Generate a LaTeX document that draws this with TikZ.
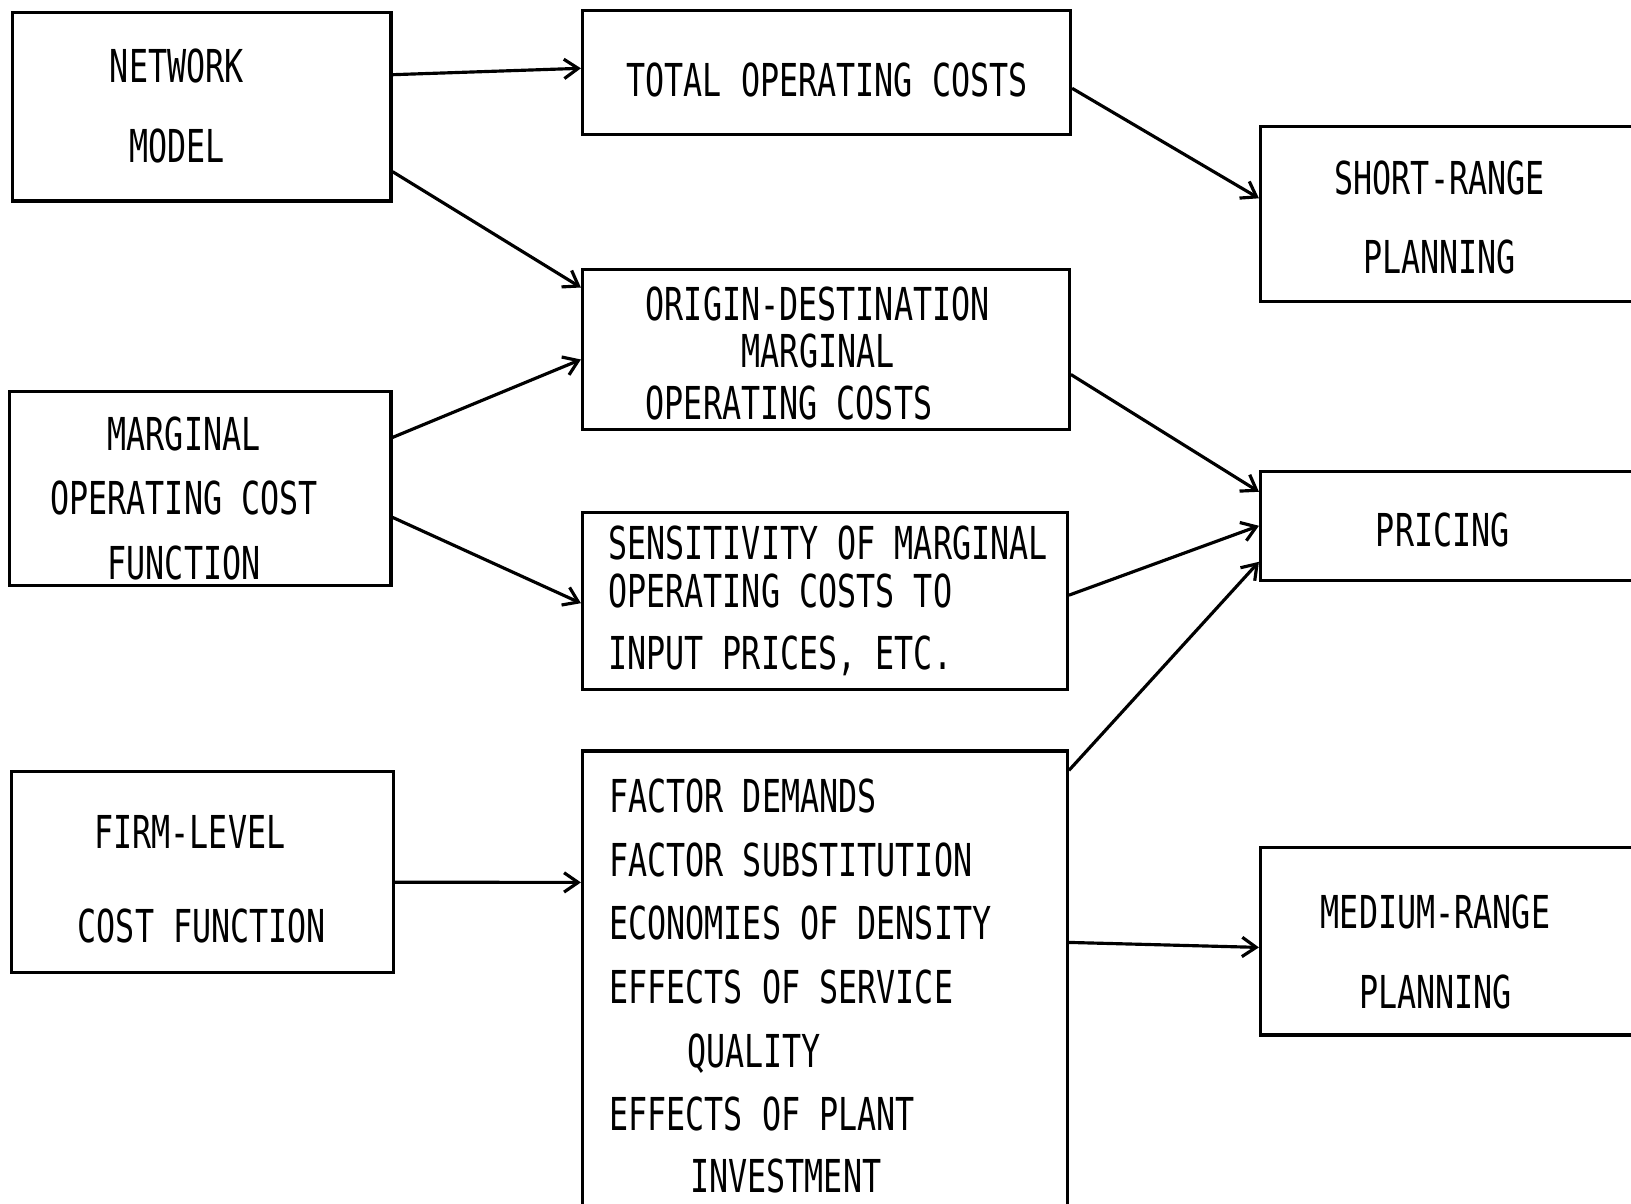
\documentclass[tikz,border=0pt]{standalone}
\usepackage{fontspec}
\usetikzlibrary{arrows.meta}
\newfontfamily\typefont[FakeStretch=0.7]{DejaVu Sans Mono}
\newcommand{\typesize}{\fontsize{12.9}{13}\selectfont\typefont}

\begin{document}
\begin{tikzpicture}[>={Straight Barb[length=4pt,width=5.5pt]}, box/.style={draw, line width=0.9pt, inner sep=0pt}, txt/.style={font=\typesize, inner sep=0pt}, arrow/.style={->, line width=0.9pt}]
\useasboundingbox (0,0) rectangle (16.31,-12.04);
\clip (0,0) rectangle (16.31,-12.04);
\node[box, minimum width=3.785cm, minimum height=1.885cm] (net) at (2.018,-1.067) {};
\node[box, minimum width=4.88cm, minimum height=1.24cm] (tot) at (8.265,-0.723) {};
\node[box, minimum width=3.99cm, minimum height=1.748cm] (short) at (14.60,-2.143) {};
\node[box, minimum width=4.868cm, minimum height=1.602cm] (od) at (8.259,-3.495) {};
\node[box, minimum width=3.817cm, minimum height=1.945cm] (moc) at (2.002,-4.884) {};
\node[box, minimum width=4.848cm, minimum height=1.769cm] (sens) at (8.249,-6.012) {};
\node[box, minimum width=3.99cm, minimum height=1.092cm] (price) at (14.60,-5.258) {};
\node[box, minimum width=3.818cm, minimum height=2.008cm] (firm) at (2.023,-8.722) {};
\node[box, minimum width=4.848cm, minimum height=4.79cm] (fac) at (8.249,-9.905) {};
\node[box, minimum width=3.99cm, minimum height=1.872cm] (med) at (14.60,-9.414) {};
\node[txt, align=center] (net-t) at (1.768,-1.056) {NETWORK\\[9.8pt]MODEL};
\node[txt] (tot-t) at (8.27,-0.801) {TOTAL OPERATING COSTS};
\node[txt, align=center] (short-t) at (14.396,-2.174) {SHORT-RANGE\\[9.5pt]PLANNING};
\node[txt, align=left, anchor=west] (od-t) at (6.45,-3.532) {ORIGIN-DESTINATION\\[0.3pt]\hspace*{0.96cm}MARGINAL\\[1.8pt]OPERATING COSTS};
\node[txt, align=center] (moc-t) at (1.841,-4.983) {MARGINAL\\[5.4pt]OPERATING COST\\[5.4pt]FUNCTION};
\node[txt, align=left, anchor=west] (sens-t) at (6.075,-6.012) {SENSITIVITY OF MARGINAL\\[0.6pt]OPERATING COSTS TO\\[4.7pt]INPUT PRICES, ETC.};
\node[txt] (price-t) at (14.428,-5.295) {PRICING};
\node[txt, align=left, anchor=west] (firm-t) at (0.77,-8.795) {\hspace*{0.166cm}FIRM-LEVEL\\[13.9pt]COST FUNCTION};
\node[txt, align=left, anchor=west] (fac-t) at (6.085,-9.86) {FACTOR DEMANDS\\[5.1pt]FACTOR SUBSTITUTION\\[5.1pt]ECONOMIES OF DENSITY\\[5.1pt]EFFECTS OF SERVICE\\[5.1pt]\hspace*{0.78cm}QUALITY\\[5.1pt]EFFECTS OF PLANT\\[4.6pt]\hspace*{0.81cm}INVESTMENT};
\node[txt, align=center] (med-t) at (14.355,-9.523) {MEDIUM-RANGE\\[9.8pt]PLANNING};
\draw[arrow] ([yshift=3.2mm]net.east) -- ([yshift=0.4mm]tot.west);
\draw[arrow] ([yshift=-6.5mm]net.east) -- ([yshift=6.2mm]od.west);
\draw[arrow] ([yshift=-1.6mm]tot.east) -- ([yshift=1.6mm]short.west);
\draw[arrow] ([yshift=5.1mm]moc.east) -- ([yshift=-1mm]od.west);
\draw[arrow] ([yshift=-2.9mm]moc.east) -- ([yshift=-0.2mm]sens.west);
\draw[arrow] ([yshift=-2.5mm]od.east) -- ([yshift=3.4mm]price.west);
\draw[arrow] ([yshift=0.6mm]sens.east) -- (price.west);
\draw[arrow] ([yshift=-2.1mm]fac.north east) -- ([yshift=-3.6mm]price.west);
\draw[arrow] ([yshift=-1mm]firm.east) -- ([yshift=-13.3mm]fac.north west);
\draw[arrow] ([yshift=-19.3mm]fac.north east) -- ([yshift=-0.6mm]med.west);
\end{tikzpicture}
\end{document}
